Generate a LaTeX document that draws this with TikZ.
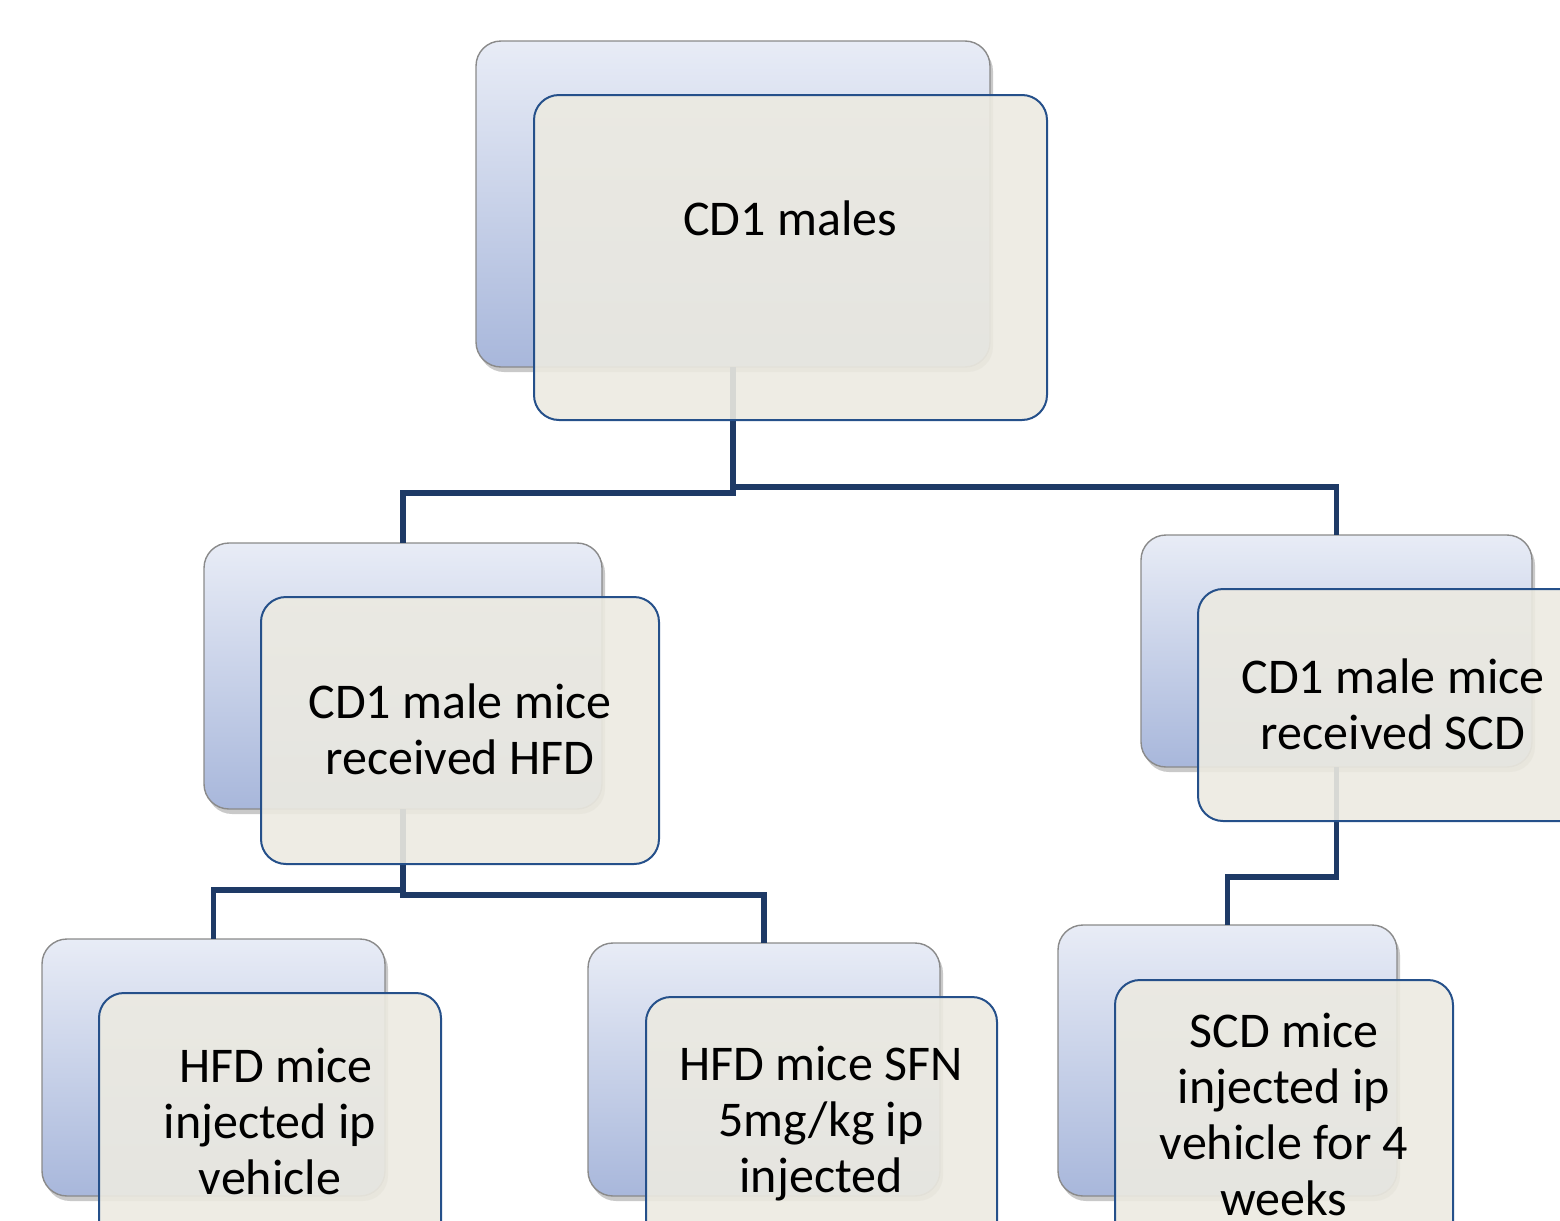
\documentclass[tikz,border=0pt]{standalone}
\usepackage{fontspec}
\setmainfont{Carlito}
\usetikzlibrary{shadows}
\definecolor{bgtop}{HTML}{E8ECF6}
\definecolor{bgbot}{HTML}{A8B7DB}
\definecolor{backline}{HTML}{8A8A8A}
\definecolor{frontline}{HTML}{25508A}
\definecolor{frontfill}{HTML}{ECEAE1}
\definecolor{connc}{HTML}{1E3A66}
\begin{document}
\begin{tikzpicture}[x=0.5pt,y=-0.5pt,
  backbox/.style={draw=backline, line width=0.7pt, rounded corners=12.5pt,
    top color=bgtop, bottom color=bgbot, inner sep=0pt, outer sep=0pt,
    drop shadow={shadow xshift=1.5pt, shadow yshift=-2.5pt, opacity=0.3, fill=black!70}},
  frontbox/.style={draw=frontline, line width=1pt, rounded corners=12.5pt,
    fill=frontfill, fill opacity=0.9, inner sep=0pt, outer sep=0pt},
  conn/.style={draw=connc, line width=2.6pt},
  lbl/.style={font=\fontsize{25}{28}\selectfont, align=center, text=black, inner sep=0pt}]
\useasboundingbox (0,0) rectangle (1560,1221);
\clip (0,0) rectangle (1560,1221);
% back boxes
\node[backbox, minimum width=257pt, minimum height=163pt] (b1) at (733,204) {};
\node[backbox, minimum width=199pt, minimum height=133pt] (b2) at (403,676) {};
\node[backbox, minimum width=195.5pt, minimum height=116pt] (b3) at (1336.5,651) {};
\node[backbox, minimum width=171.5pt, minimum height=128.5pt] (b4) at (213.5,1067.5) {};
\node[backbox, minimum width=176pt, minimum height=126.5pt] (b5) at (764,1069.5) {};
\node[backbox, minimum width=169.5pt, minimum height=135.5pt] (b6) at (1227.5,1060.5) {};
% connectors
\draw[conn] (b1.south) -- (b1.south |- 0,493) -| (b2.north);
\draw[conn] (b1.south) -- (b1.south |- 0,487) -| (b3.north);
\draw[conn] (b2.south) -- (b2.south |- 0,890) -| (b4.north);
\draw[conn] (b2.south) -- (b2.south |- 0,895) -| (b5.north);
\draw[conn] (b3.south) -- (b3.south |- 0,877) -| (b6.north);
% front boxes
\node[frontbox, minimum width=256.5pt, minimum height=162.5pt] (f1) at (790.5,257.5) {};
\node[frontbox, minimum width=199pt, minimum height=133.5pt] (f2) at (460,730.5) {};
\node[frontbox, minimum width=195.5pt, minimum height=116pt] (f3) at (1393.5,705) {};
\node[frontbox, minimum width=171pt, minimum height=128.5pt] (f4) at (270,1121.5) {};
\node[frontbox, minimum width=175.5pt, minimum height=126.5pt] (f5) at (821.5,1123.5) {};
\node[frontbox, minimum width=169pt, minimum height=135.5pt] (f6) at (1284,1115.5) {};
% labels
\node[lbl] (t1) at (790,218) {CD1 males};
\node[lbl] (t2) at (460,729) {CD1 male mice\\received HFD};
\node[lbl] (t3) at (1393,704) {CD1 male mice\\received SCD};
\node[lbl] (t4) at (270,1121) {\hspace*{6pt}HFD mice\\injected ip\\vehicle};
\node[lbl] (t5) at (821,1124) {HFD mice SFN\\5mg/kg ip\\injected};
\node[lbl] (t6) at (1284,1114) {SCD mice\\injected ip\\vehicle for 4\\weeks};
\end{tikzpicture}
\end{document}
